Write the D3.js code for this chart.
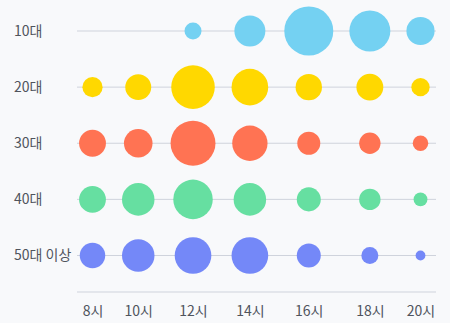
<!DOCTYPE html>
<html>
<head>
<meta charset="utf-8">
<script src="https://cdn.jsdelivr.net/npm/d3@7"></script>
<style>
  html, body { margin: 0; padding: 0; background: #f8f9fb; }
  svg { display: block; }
</style>
</head>
<body>
<svg id="chart" width="450" height="323"></svg>
<script>
// ---- data ----
const hours = ["8시", "10시", "12시", "14시", "16시", "18시", "20시"];
const ages = ["10대", "20대", "30대", "40대", "50대 이상"];
const colors = ["#74d1f2", "#ffd800", "#ff7353", "#66dfa1", "#7488f8"];
const v10 = [null, null, 12, 40, 100, 70, 33];
const v20 = [17, 28, 79, 56, 29, 30, 14];
const v30 = [30, 34, 84, 52, 22, 19, 10];
const v40 = [30, 44, 65, 44, 24, 19, 8];
const v50 = [27, 44, 56, 56, 24, 12, 4];
const series = [v10, v20, v30, v40, v50];

// ---- layout ----
const W = 450, H = 323;
const plotLeft = 77, plotRight = 436;
const edgePad = 15.5;
const svg = d3.select("#chart");
const font = "'Noto Sans CJK KR', 'Noto Sans', sans-serif";

const r = d3.scaleSqrt().domain([0, 100]).range([0, 24.5]);

// column width depends on the largest bubble in each column
const maxR = hours.map((h, i) => d3.max(series, s => s[i] == null ? 0 : r(s[i])));
let pairSum = 0;
for (let i = 1; i < hours.length; i++) pairSum += maxR[i - 1] + maxR[i];
const span = (plotRight - edgePad) - (plotLeft + edgePad);
const gap = (span - pairSum) / (hours.length - 1);
const centers = [plotLeft + edgePad];
for (let i = 1; i < hours.length; i++) centers.push(centers[i - 1] + maxR[i - 1] + maxR[i] + gap);

const x = d3.scaleOrdinal().domain(hours).range(centers);
const y = d3.scalePoint().domain(ages).range([31, 255.5]);

// grid lines
svg.append("g").selectAll("line").data(ages).join("line")
  .attr("x1", plotLeft).attr("x2", plotRight)
  .attr("y1", d => y(d)).attr("y2", d => y(d))
  .attr("stroke", "#cfd3dc").attr("stroke-width", 1);

// row labels
svg.append("g").selectAll("text").data(ages).join("text")
  .attr("x", 14).attr("y", d => y(d))
  .attr("dy", "0.35em")
  .attr("font-family", font).attr("font-size", 14)
  .attr("fill", "#4f545d")
  .text(d => d);

// bubbles
ages.forEach((a, ai) => {
  const pts = hours.map((h, i) => ({ h, v: series[ai][i] })).filter(p => p.v != null);
  svg.append("g").selectAll("circle").data(pts).join("circle")
    .attr("cx", d => x(d.h))
    .attr("cy", y(a))
    .attr("r", d => r(d.v))
    .attr("fill", colors[ai]);
});

// bottom axis
const axisY = 292;
svg.append("line")
  .attr("x1", plotLeft).attr("x2", plotRight)
  .attr("y1", axisY).attr("y2", axisY)
  .attr("stroke", "#cfd3dc").attr("stroke-width", 1);

const ax = svg.append("g").attr("transform", `translate(0,${axisY})`)
  .call(d3.axisBottom(x).tickSize(0).tickPadding(14));
ax.select(".domain").remove();
ax.selectAll("text")
  .attr("font-family", font).attr("font-size", 14)
  .attr("fill", "#4f545d");
</script>
</body>
</html>
